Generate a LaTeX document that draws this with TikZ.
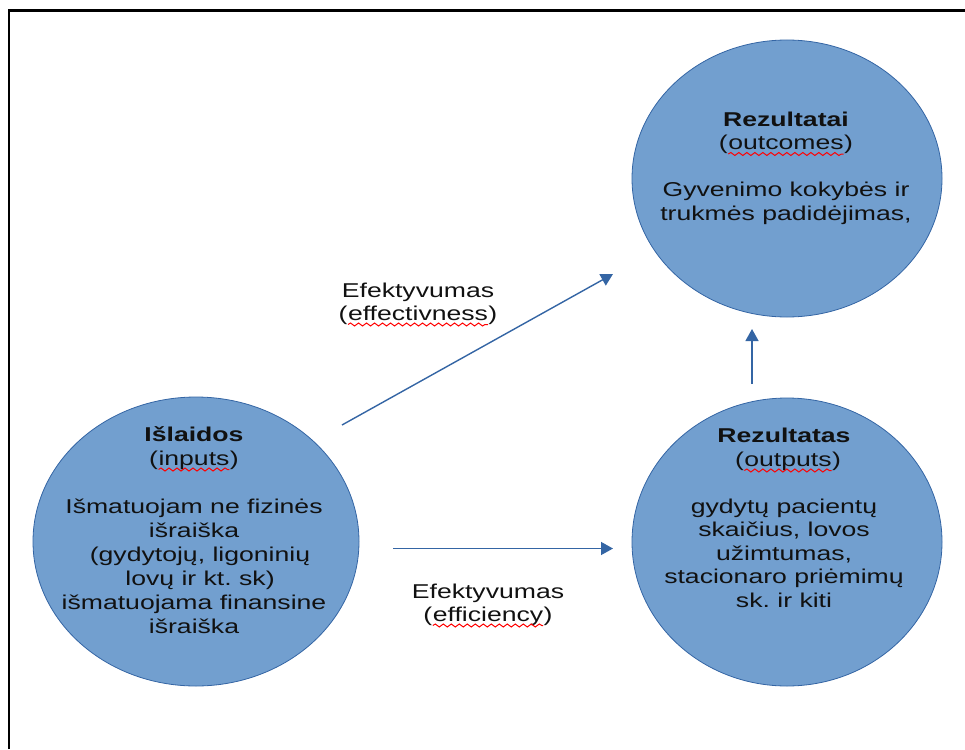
\documentclass[tikz,border=0pt]{standalone}
\usepackage{fontspec}
\setmainfont[FakeStretch=1.33]{Liberation Sans}
\usetikzlibrary{shapes.geometric,arrows.meta,decorations.pathmorphing}
\definecolor{fillblue}{HTML}{729FCF}
\definecolor{lineblue}{HTML}{3465A4}
\definecolor{txt}{HTML}{111111}
\frenchspacing
\newcommand{\spellmark}[1]{\tikz[baseline=(sw.base)]{\node[inner sep=0pt,outer sep=0pt,anchor=base](sw) at (0,0){#1};\draw[red,line width=1pt,decorate,decoration={snake,amplitude=1.5pt,segment length=8pt}]([yshift=-4.5pt]sw.base west)--([yshift=-4.5pt]sw.base east);}}
\begin{document}
\begin{tikzpicture}[x=1pt,y=-1pt,
  circ/.style={ellipse,draw=lineblue,fill=fillblue,line width=0.8pt,inner sep=0pt},
  txtbox/.style={align=center,text=txt,inner sep=0pt,anchor=base},
  conn/.style={draw=lineblue,line width=1.4pt,-{Triangle[length=12pt,width=13pt]}}]
\useasboundingbox (0,0) rectangle (965,749);
\draw[line width=2.6pt] (9,749) -- (9,10.5) -- (965,10.5);

\node[circ,minimum width=310pt,minimum height=277pt] (outc) at (787,178.5) {};
\node[circ,minimum width=310pt,minimum height=288pt] (outp) at (787,542) {};
\node[circ,minimum width=326pt,minimum height=289pt] (inp) at (196,541.5) {};

% anchor=base of a multi-line node is the baseline of its last line
\node[txtbox,font=\fontsize{20}{23.5}\selectfont] (outct) at (786,220)
  {\textbf{Rezultatai}\\(\spellmark{outcomes})\\[23.5pt]Gyvenimo kokybės ir\\trukmės padidėjimas,};
\node[txtbox,font=\fontsize{20}{24}\selectfont] (inpt) at (194,633)
  {\textbf{Išlaidos}\\(\spellmark{inputs})\\[24pt]Išmatuojam ne fizinės\\išraiška\\\hspace*{12pt}(gydytojų, ligoninių\\\hspace*{12pt}lovų ir kt. sk)\\išmatuojama finansine\\išraiška};
\node[txtbox,font=\fontsize{20}{23.5}\selectfont] (outpt) at (784,607)
  {\textbf{Rezultatas}\\\hspace*{8pt}(\spellmark{outputs})\\[23.5pt]gydytų pacientų\\skaičius, lovos\\užimtumas,\\stacionaro priėmimų\\sk. ir kiti};
\node[txtbox,font=\fontsize{20}{23}\selectfont] (effl) at (418,320)
  {Efektyvumas\\(\spellmark{effectivness})};
\node[txtbox,font=\fontsize{20}{23}\selectfont] (effcl) at (488,621)
  {Efektyvumas\\(\spellmark{efficiency})};

\coordinate (a1) at (342,425);
\coordinate (a2) at (613,274);
\coordinate (b1) at (393,548.5);
\coordinate (b2) at (613,548.5);
\coordinate (c1) at (752,384);
\coordinate (c2) at (752,329);
\draw[conn] (a1) -- (a2);
\draw[conn] (b1) -- (b2);
\draw[conn] (c1) -- (c2);
\end{tikzpicture}
\end{document}
